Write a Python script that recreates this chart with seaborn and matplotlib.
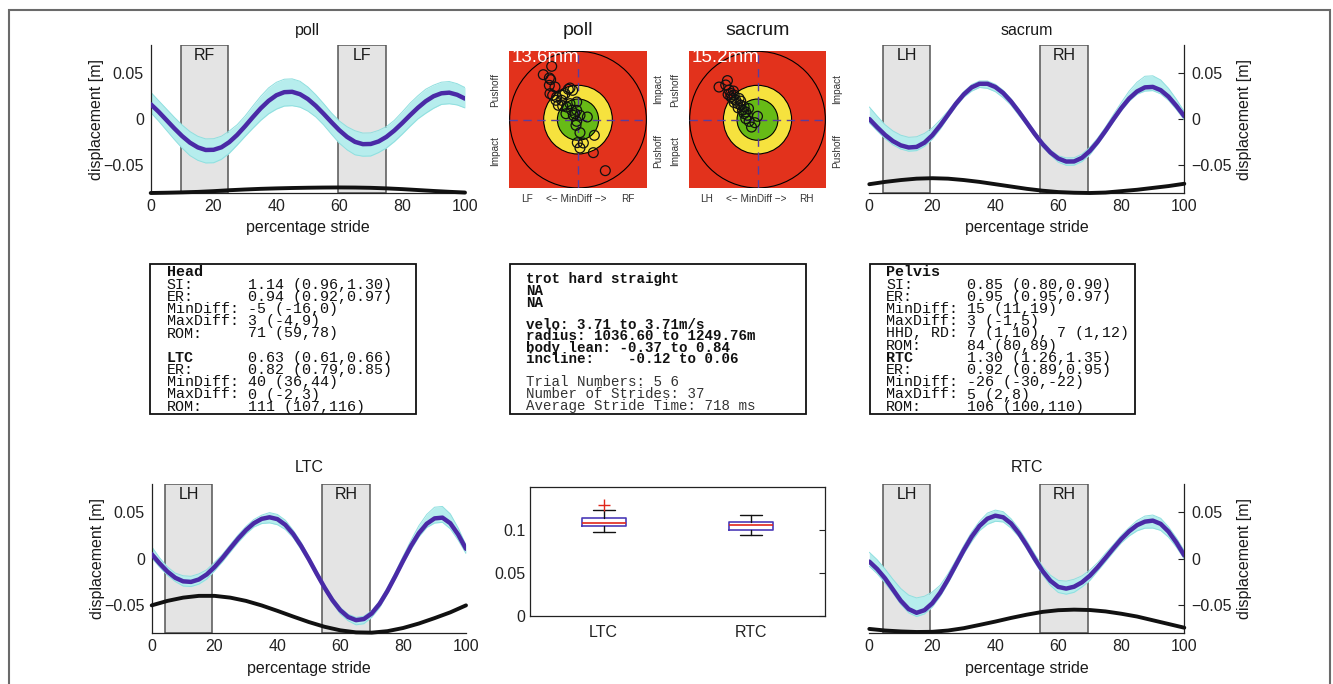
import numpy as np
import pandas as pd
import matplotlib
matplotlib.use("Agg")
import matplotlib.pyplot as plt
from matplotlib.patches import Rectangle, Circle
import seaborn as sns

# ------------------------------------------------------------------ data
pct_fine = np.arange(0, 100.1, 2.5)     # percentage stride (41 samples)
pct_coarse = np.arange(0, 100.1, 5)     # percentage stride (21 samples)

poll_mean = [0.016, 0.0079, -0.0011, -0.0101, -0.0185, -0.0256, -0.0307, -0.0335, -0.0333, -0.0306,
             -0.0250, -0.0172, -0.0079, 0.0020, 0.0115, 0.0196, 0.0257, 0.0290, 0.0294, 0.0268,
             0.0216, 0.0143, 0.0057, -0.0034, -0.0121, -0.0194, -0.0247, -0.0272, -0.0270, -0.0243,
             -0.0193, -0.0125, -0.0045, 0.0040, 0.0121, 0.0192, 0.0246, 0.0278, 0.0285, 0.0262, 0.022]
poll_up = [0.013, 0.012, 0.012, 0.012, 0.012, 0.012, 0.012, 0.012, 0.012, 0.012, 0.012, 0.011, 0.011, 0.012,
           0.013, 0.014, 0.014, 0.014, 0.014, 0.014, 0.013, 0.012, 0.011, 0.010, 0.010, 0.011, 0.012, 0.012,
           0.012, 0.012, 0.011, 0.011, 0.012, 0.013, 0.013, 0.013, 0.012, 0.012, 0.012, 0.012, 0.012]
poll_dn = [0.009, 0.010, 0.011, 0.012, 0.013, 0.014, 0.014, 0.014, 0.014, 0.013, 0.012, 0.011, 0.011, 0.012,
           0.013, 0.014, 0.015, 0.015, 0.015, 0.014, 0.013, 0.012, 0.012, 0.013, 0.014, 0.014, 0.014, 0.013,
           0.013, 0.012, 0.012, 0.012, 0.012, 0.012, 0.012, 0.013, 0.013, 0.012, 0.012, 0.011, 0.010]
poll_black = [-0.080, -0.0797, -0.0793, -0.0788, -0.078, -0.077, -0.0762, -0.0755, -0.075, -0.0746, -0.0743,
              -0.0741, -0.074, -0.0741, -0.0744, -0.075, -0.0758, -0.0768, -0.0778, -0.0787, -0.0795]
poll_phases = ["RF", "LF"]
poll_phase_start = [9.5, 59.7]
poll_phase_end = [24.5, 74.8]

sacrum_mean = [0.000, -0.0089, -0.0172, -0.0239, -0.0285, -0.0308, -0.0302, -0.0256, -0.0176, -0.0070,
               0.0047, 0.0165, 0.0266, 0.0342, 0.0381, 0.0381, 0.0346, 0.0281, 0.0189, 0.0078,
               -0.0041, -0.0161, -0.0271, -0.0362, -0.0427, -0.0460, -0.0459, -0.0420, -0.0346, -0.0246,
               -0.0127, -0.0002, 0.0118, 0.0222, 0.0298, 0.0342, 0.0347, 0.0312, 0.0241, 0.0142, 0.003]
sacrum_up = [0.013, 0.012, 0.011, 0.011, 0.011, 0.011, 0.011, 0.010, 0.008, 0.006, 0.004, 0.003, 0.003, 0.003,
             0.003, 0.003, 0.003, 0.003, 0.003, 0.003, 0.003, 0.003, 0.003, 0.003, 0.003, 0.004, 0.004, 0.004,
             0.004, 0.004, 0.004, 0.005, 0.006, 0.008, 0.010, 0.012, 0.012, 0.011, 0.009, 0.007, 0.005]
sacrum_dn = [0.004, 0.004, 0.004, 0.004, 0.004, 0.004, 0.004, 0.004, 0.004, 0.004, 0.003, 0.003, 0.003, 0.004,
             0.004, 0.005, 0.005, 0.005, 0.004, 0.004, 0.003, 0.003, 0.003, 0.003, 0.004, 0.004, 0.004, 0.004,
             0.004, 0.003, 0.003, 0.003, 0.003, 0.003, 0.003, 0.004, 0.004, 0.004, 0.004, 0.004, 0.004]
sacrum_black = [-0.0705, -0.068, -0.066, -0.0645, -0.064, -0.0645, -0.066, -0.068, -0.0705, -0.073, -0.0755,
                -0.0775, -0.079, -0.0797, -0.080, -0.0795, -0.078, -0.0765, -0.0745, -0.0725, -0.070]
hind_phases = ["LH", "RH"]
hind_phase_start = [4.3, 54.3]
hind_phase_end = [19.3, 69.4]

ltc_mean = [0.005, -0.0049, -0.0137, -0.0204, -0.0242, -0.0248, -0.0222, -0.0168, -0.0088, 0.0008,
            0.0113, 0.0216, 0.0308, 0.0382, 0.0429, 0.0446, 0.0426, 0.0365, 0.0267, 0.0140,
            -0.0005, -0.0160, -0.0309, -0.0444, -0.0552, -0.0625, -0.0659, -0.0647, -0.0587, -0.0484,
            -0.0346, -0.0187, -0.0021, 0.0138, 0.0275, 0.0376, 0.0434, 0.0442, 0.0382, 0.0261, 0.0107]
ltc_up = [0.008, 0.006, 0.005, 0.005, 0.006, 0.006, 0.006, 0.005, 0.005, 0.004, 0.004, 0.004, 0.004, 0.004,
          0.004, 0.005, 0.005, 0.005, 0.004, 0.004, 0.003, 0.003, 0.003, 0.003, 0.003, 0.003, 0.003, 0.003,
          0.003, 0.003, 0.004, 0.004, 0.005, 0.006, 0.008, 0.010, 0.012, 0.012, 0.010, 0.007, 0.004]
ltc_dn = [0.004, 0.004, 0.004, 0.004, 0.005, 0.005, 0.005, 0.005, 0.004, 0.004, 0.004, 0.004, 0.004, 0.004,
          0.005, 0.006, 0.006, 0.005, 0.004, 0.004, 0.003, 0.003, 0.003, 0.003, 0.004, 0.004, 0.005, 0.005,
          0.004, 0.004, 0.003, 0.003, 0.003, 0.004, 0.004, 0.004, 0.005, 0.005, 0.006, 0.006, 0.005]
ltc_black = [-0.050, -0.0452, -0.0417, -0.0398, -0.0398, -0.0417, -0.0452, -0.0501, -0.0559, -0.0620, -0.0679,
             -0.0730, -0.0768, -0.0790, -0.0793, -0.0777, -0.0743, -0.0695, -0.0637, -0.0575, -0.050]

rtc_mean = [-0.003, -0.011, -0.021, -0.033, -0.045, -0.054, -0.0580, -0.0552, -0.0477, -0.0364,
            -0.0221, -0.0064, 0.0093, 0.0237, 0.0353, 0.0431, 0.0463, 0.0446, 0.0380, 0.0274,
            0.0143, 0.0001, -0.0131, -0.0236, -0.0302, -0.0320, -0.0300, -0.0253, -0.0182, -0.0091,
            0.0010, 0.0113, 0.0212, 0.0296, 0.0361, 0.0399, 0.0410, 0.0375, 0.0292, 0.0174, 0.0036]
rtc_up = [0.010, 0.010, 0.010, 0.011, 0.013, 0.015, 0.016, 0.015, 0.012, 0.008, 0.006, 0.005, 0.005, 0.005,
          0.005, 0.006, 0.006, 0.006, 0.005, 0.005, 0.005, 0.005, 0.005, 0.006, 0.007, 0.008, 0.008, 0.007,
          0.006, 0.005, 0.005, 0.004, 0.004, 0.004, 0.005, 0.006, 0.006, 0.006, 0.005, 0.005, 0.005]
rtc_dn = [0.005, 0.005, 0.005, 0.004, 0.004, 0.004, 0.004, 0.004, 0.004, 0.004, 0.004, 0.004, 0.004, 0.005,
          0.005, 0.006, 0.006, 0.005, 0.005, 0.004, 0.004, 0.004, 0.004, 0.005, 0.006, 0.006, 0.006, 0.005,
          0.005, 0.004, 0.004, 0.004, 0.004, 0.005, 0.006, 0.007, 0.008, 0.007, 0.006, 0.005, 0.004]
rtc_black = [-0.0753, -0.077, -0.078, -0.0786, -0.0784, -0.077, -0.0745, -0.071, -0.0674, -0.0635, -0.060,
             -0.057, -0.0552, -0.0546, -0.055, -0.0565, -0.059, -0.062, -0.066, -0.070, -0.074]

# target (MinDiff) scatter, radius-normalised
poll_tx = [-0.383, -0.505, -0.417, -0.398, -0.417, -0.335, -0.408, -0.369, -0.311, -0.223, -0.141, -0.117,
           -0.078, -0.189, -0.238, -0.320, -0.019, -0.165, -0.223, -0.092, -0.019, -0.175, -0.068, 0.029,
           0.136, -0.019, -0.029, 0.029, 0.238, -0.010, 0.078, 0.029, 0.223, 0.398, -0.286, -0.044, -0.117]
poll_ty = [0.777, 0.655, 0.607, 0.583, 0.500, 0.476, 0.379, 0.354, 0.330, 0.354, 0.442, 0.461,
           0.427, 0.379, 0.282, 0.282, 0.257, 0.184, 0.199, 0.136, 0.136, 0.087, 0.063, 0.063,
           0.039, -0.024, -0.083, -0.189, -0.228, -0.335, -0.340, -0.413, -0.481, -0.743, 0.209, 0.087, 0.233]
sacrum_tx = [-0.441, -0.564, -0.466, -0.417, -0.392, -0.343, -0.368, -0.319, -0.270, -0.294, -0.245, -0.196,
             -0.221, -0.172, -0.147, -0.172, 0.000, -0.088, -0.039, -0.392, -0.343, -0.284, -0.132, -0.353,
             -0.431, -0.245, -0.196, -0.123]
sacrum_ty = [0.569, 0.475, 0.505, 0.431, 0.382, 0.358, 0.309, 0.284, 0.309, 0.235, 0.211, 0.186,
             0.137, 0.113, 0.064, 0.015, 0.049, -0.108, -0.044, 0.333, 0.250, 0.172, 0.162, 0.417,
             0.368, 0.270, 0.088, -0.025]

# boxplot statistics (LTC / RTC)
box_labels = ["LTC", "RTC"]
box_med = [0.1086, 0.1059]
box_q1 = [0.1047, 0.1000]
box_q3 = [0.1137, 0.1098]
box_whislo = [0.0980, 0.0941]
box_whishi = [0.1234, 0.1176]
box_fliers = [[0.1293], []]

# text boxes: (label, value) rows; bold flag applies to the label only
head_labels = ["Head", "SI:", "ER:", "MinDiff:", "MaxDiff:", "ROM:", "", "LTC", "ER:", "MinDiff:", "MaxDiff:", "ROM:"]
head_values = ["", "1.14 (0.96,1.30)", "0.94 (0.92,0.97)", "-5 (-16,0)", "3 (-4,9)", "71 (59,78)", "",
               "0.63 (0.61,0.66)", "0.82 (0.79,0.85)", "40 (36,44)", "0 (-2,3)", "111 (107,116)"]
head_bold = [True, False, False, False, False, False, False, True, False, False, False, False]

pelvis_labels = ["Pelvis", "SI:", "ER:", "MinDiff:", "MaxDiff:", "HHD, RD:", "ROM:", "RTC", "ER:", "MinDiff:",
                 "MaxDiff:", "ROM:"]
pelvis_values = ["", "0.85 (0.80,0.90)", "0.95 (0.95,0.97)", "15 (11,19)", "3 (-1,5)", "7 (1,10), 7 (1,12)",
                 "84 (80,89)", "1.30 (1.26,1.35)", "0.92 (0.89,0.95)", "-26 (-30,-22)", "5 (2,8)",
                 "106 (100,110)"]
pelvis_bold = [True, False, False, False, False, False, False, True, False, False, False, False]

info_lines = ["trot hard straight", "NA", "NA",
              "velo: 3.71 to 3.71m/s",
              "radius: 1036.60 to 1249.76m",
              "body lean: -0.37 to 0.84",
              "incline:    -0.12 to 0.06",
              "Trial Numbers: 5 6",
              "Number of Strides: 37",
              "Average Stride Time: 718 ms"]
info_bold = [True, True, True, True, True, True, True, False, False, False]

# ------------------------------------------------------------------ style
sns.set_style("white")
plt.rcParams['font.family'] = ['Liberation Sans', 'DejaVu Sans']
plt.rcParams['axes.unicode_minus'] = True

W, H = 1333, 684
fig = plt.figure(figsize=(W / 100, H / 100), dpi=100)
fig.patch.set_facecolor('white')

def fr(x0, y_top, x1, y_bot):
    return [x0 / W, 1 - y_bot / H, (x1 - x0) / W, (y_bot - y_top) / H]

PURPLE = '#4a2aa6'
CYAN_FILL = '#b6eded'
CYAN_LINE = '#8fdfdf'
FS = 11.5


def draw_time(rect, mean, up, dn, black, phases, starts, ends, title, side, title_dy):
    ax = fig.add_axes(rect)
    mean = np.asarray(mean)
    hi = mean + np.asarray(up)
    lo = mean - np.asarray(dn)
    for lab, a, b in zip(phases, starts, ends):
        ax.axvspan(a, b, facecolor='#e4e4e4', edgecolor='#555555', lw=1.1, zorder=0)
        ax.text((a + b) / 2, 0.069, lab, ha='center', va='center', fontsize=FS, zorder=1, color='#1a1a1a')
    ax.fill_between(pct_fine, lo, hi, color=CYAN_FILL, lw=0, zorder=1)
    sns.lineplot(x=pct_fine, y=hi, ax=ax, color=CYAN_LINE, lw=0.7, zorder=2)
    sns.lineplot(x=pct_fine, y=lo, ax=ax, color=CYAN_LINE, lw=0.7, zorder=2)
    sns.lineplot(x=pct_coarse, y=black, ax=ax, color='#111111', lw=2.8, zorder=3, clip_on=False)
    sns.lineplot(x=pct_fine, y=mean, ax=ax, color=PURPLE, lw=3.2, zorder=4)

    ax.set_xlim(0, 100)
    ax.set_ylim(-0.08, 0.08)
    ax.set_xticks([0, 20, 40, 60, 80, 100])
    ax.set_xticklabels(['0', '20', '40', '60', '80', '100'])
    ax.set_yticks([-0.05, 0, 0.05])
    ax.set_yticklabels(['\u22120.05', '0', '0.05'])
    ax.spines['top'].set_visible(False)
    if side == 'left':
        ax.spines['right'].set_visible(False)
    else:
        ax.spines['left'].set_visible(False)
        ax.yaxis.tick_right()
    for s in ax.spines.values():
        s.set_color('#222222')
        s.set_linewidth(0.9)
    ax.tick_params(direction='in', length=4, width=0.8, labelsize=FS, colors='#222222', pad=4)
    ax.tick_params(axis='y', pad=5)
    ax.set_xlabel('percentage stride', fontsize=FS, color='#1a1a1a')
    ax.xaxis.set_label_coords(0.5, -0.185)
    ax.set_ylabel('displacement [m]', fontsize=FS, color='#1a1a1a')
    if side == 'left':
        ax.yaxis.set_label_coords(-0.15, 0.5)
    else:
        ax.yaxis.set_label_position('right')
        ax.yaxis.set_label_coords(1.168, 0.5)
    ax.text(0.5, 1 + title_dy, title, transform=ax.transAxes, ha='center', va='center',
            fontsize=FS, color='#1a1a1a')
    ax.set_facecolor('none')
    return ax


RED, YEL, GRN, DASH = '#e2321c', '#f6e23e', '#67bb16', '#5a3d9e'


def draw_target(rect, xs, ys, title, dist, lt, lb, rt, rb, left_lab, right_lab):
    ax = fig.add_axes(rect)
    ax.set_xlim(-1, 1)
    ax.set_ylim(-1, 1)
    ax.add_patch(Rectangle((-1, -1), 2, 2, facecolor=RED, edgecolor='none', zorder=0))
    ax.add_patch(Circle((0, 0), 0.995, facecolor='none', edgecolor='k', lw=0.8, zorder=1))
    ax.add_patch(Circle((0, 0), 0.5, facecolor=YEL, edgecolor='k', lw=0.8, zorder=1))
    ax.add_patch(Circle((0, 0), 0.3, facecolor=GRN, edgecolor='k', lw=0.8, zorder=1))
    ax.axhline(0, color=DASH, lw=1.0, ls=(0, (6, 4)), zorder=2)
    ax.axvline(0, color=DASH, lw=1.0, ls=(0, (6, 4)), zorder=2)
    sns.scatterplot(x=xs, y=ys, ax=ax, s=50, color='k', linewidth=0.9, zorder=3, legend=False)
    pc = ax.collections[-1]
    pc.set_facecolor('none')
    pc.set_edgecolor('#111111')
    ax.set_axis_off()
    ax.text(0.5, 1.146, title, transform=ax.transAxes, ha='center', va='center', fontsize=14,
            color='#1a1a1a')
    ax.text(0.02, 1.015, dist, transform=ax.transAxes, ha='left', va='top', fontsize=13.5,
            color='white', zorder=5)
    sf = 7.2
    ax.text(-0.105, 0.72, lt, transform=ax.transAxes, rotation=90, ha='center', va='center', fontsize=sf, color='#333333')
    ax.text(-0.105, 0.27, lb, transform=ax.transAxes, rotation=90, ha='center', va='center', fontsize=sf, color='#333333')
    ax.text(1.085, 0.72, rt, transform=ax.transAxes, rotation=90, ha='center', va='center', fontsize=sf, color='#333333')
    ax.text(1.085, 0.27, rb, transform=ax.transAxes, rotation=90, ha='center', va='center', fontsize=sf, color='#333333')
    ax.text(0.13, -0.08, left_lab, transform=ax.transAxes, ha='center', va='center', fontsize=sf, color='#333333')
    ax.text(0.49, -0.08, '<\u2212 MinDiff \u2212>', transform=ax.transAxes, ha='center', va='center', fontsize=sf, color='#333333')
    ax.text(0.86, -0.08, right_lab, transform=ax.transAxes, ha='center', va='center', fontsize=sf, color='#333333')
    return ax


# ------------------------------------------------------------------ time panels
draw_time(fr(150.7, 45, 465, 193), poll_mean, poll_up, poll_dn, poll_black,
          poll_phases, poll_phase_start, poll_phase_end, 'poll', 'left', 0.101)
draw_time(fr(869.3, 45, 1184.3, 193), sacrum_mean, sacrum_up, sacrum_dn, sacrum_black,
          hind_phases, hind_phase_start, hind_phase_end, 'sacrum', 'right', 0.101)
draw_time(fr(151.7, 484.3, 466, 633.3), ltc_mean, ltc_up, ltc_dn, ltc_black,
          hind_phases, hind_phase_start, hind_phase_end, 'LTC', 'left', 0.116)
draw_time(fr(869.3, 484.3, 1184.3, 633.3), rtc_mean, rtc_up, rtc_dn, rtc_black,
          hind_phases, hind_phase_start, hind_phase_end, 'RTC', 'right', 0.116)

# ------------------------------------------------------------------ targets
draw_target(fr(509.3, 51, 646.7, 188.3), poll_tx, poll_ty, 'poll', '13.6mm',
            'Pushoff', 'Impact', 'Impact', 'Pushoff', 'LF', 'RF')
draw_target(fr(689.3, 51, 825.7, 188.3), sacrum_tx, sacrum_ty, 'sacrum', '15.2mm',
            'Pushoff', 'Impact', 'Impact', 'Pushoff', 'LH', 'RH')

# ------------------------------------------------------------------ boxplot
axb = fig.add_axes(fr(530, 487.3, 825, 615.7))
stats = [dict(label=n, med=m, q1=a, q3=b, whislo=lo, whishi=hi, fliers=f)
         for n, m, a, b, lo, hi, f in zip(box_labels, box_med, box_q1, box_q3,
                                           box_whislo, box_whishi, box_fliers)]
axb.bxp(stats, positions=[1, 2], widths=0.3, capwidths=0.15, showfliers=True,
        boxprops=dict(color='#4b3bb8', lw=1.2),
        medianprops=dict(color='#e0261a', lw=1.2),
        whiskerprops=dict(color='#111111', lw=1.0),
        capprops=dict(color='#111111', lw=1.0),
        flierprops=dict(marker='+', markeredgecolor='#e0261a', markersize=8, markeredgewidth=1.0))
axb.set_xlim(0.5, 2.5)
axb.set_ylim(0, 0.15)
axb.set_yticks([0, 0.05, 0.1])
axb.set_yticklabels(['0', '0.05', '0.1'])
axb.set_xticks([1, 2])
axb.set_xticklabels(box_labels)
axb.tick_params(axis='y', direction='in', right=True, length=4, width=0.8, labelsize=FS, colors='#222222')
axb.tick_params(axis='x', length=0, pad=7, labelsize=FS, colors='#222222')
for s in axb.spines.values():
    s.set_visible(True)
    s.set_color('#222222')
    s.set_linewidth(0.9)

# ------------------------------------------------------------------ text boxes
MONO = ['Liberation Mono', 'DejaVu Sans Mono']
BOX_FS = 10.8
CHAR_PX = 0.6 * BOX_FS * 100 / 72      # monospace advance in pixels


def frame(x0, x1, y0, y1):
    fig.patches.append(Rectangle((x0 / W, 1 - y1 / H), (x1 - x0) / W, (y1 - y0) / H,
                                 transform=fig.transFigure, fill=False, edgecolor='#111111', lw=1.3))


def stat_box(x0, x1, y0, y1, tx, ys, labels, values, bold, fs):
    frame(x0, x1, y0, y1)
    for lab, val, b, yy in zip(labels, values, bold, ys):
        if lab:
            fig.text(tx / W, 1 - yy / H, lab, family=MONO, fontsize=fs,
                     fontweight='bold' if b else 'normal', ha='left', va='center', color='#111111')
        if val:
            fig.text((tx + 9 * CHAR_PX) / W, 1 - yy / H, val, family=MONO, fontsize=fs,
                     ha='left', va='center', color='#111111')


row_y = [272.5 + 12.2 * i for i in range(12)]
stat_box(150, 416, 264, 414, 166.5, row_y, head_labels, head_values, head_bold, BOX_FS)
stat_box(870, 1135, 264, 414, 886, row_y, pelvis_labels, pelvis_values, pelvis_bold, BOX_FS)

frame(510, 806, 264, 414)
info_y = [279, 291, 303, 325, 336.5, 348, 359.5, 382, 394, 406]
info_colors = ['#111111'] * 7 + ['#333333'] * 3
for ln, b, yy, c in zip(info_lines, info_bold, info_y, info_colors):
    fig.text(526.5 / W, 1 - yy / H, ln, family=MONO, fontsize=10.2,
             fontweight='bold' if b else 'normal', ha='left', va='center', color=c)

# outer frame
fig.patches.append(Rectangle((9 / W, -0.05), (1330 - 9) / W, 1 - 10 / H + 0.05,
                             transform=fig.transFigure, fill=False, edgecolor='#6a6a6a', lw=1.5))

fig.savefig('out.png', dpi=100, facecolor='white')
